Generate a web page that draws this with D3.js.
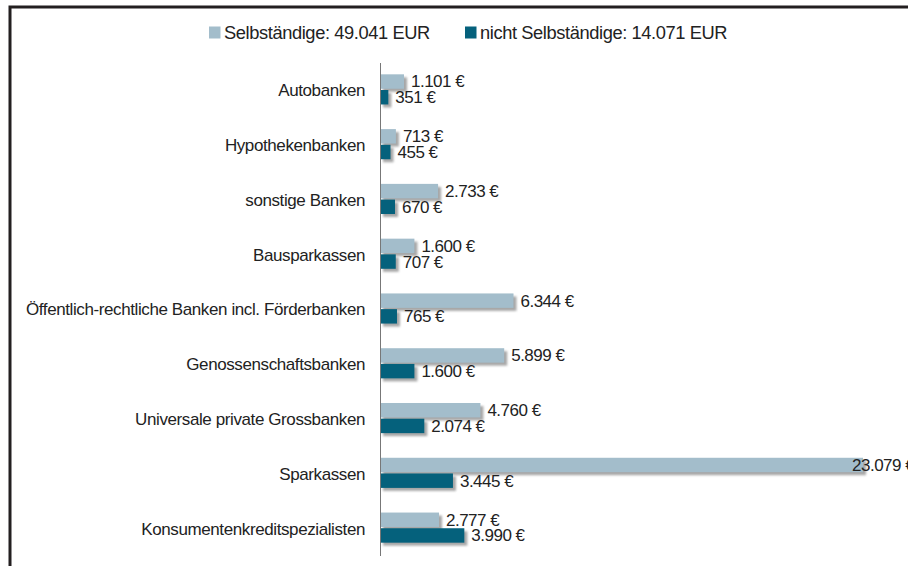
<!DOCTYPE html>
<html>
<head>
<meta charset="utf-8">
<script src="https://cdn.jsdelivr.net/npm/d3@7/dist/d3.min.js"></script>
<style>
  html, body { margin: 0; padding: 0; background: #fff; }
  svg { display: block; font-family: "Liberation Sans", Arial, sans-serif; }
</style>
</head>
<body>
<svg id="chart" width="908" height="566"></svg>
<script>
// Bank categories and average amounts per group
const categories = [
  "Autobanken",
  "Hypothekenbanken",
  "sonstige Banken",
  "Bausparkassen",
  "Öffentlich-rechtliche Banken incl. Förderbanken",
  "Genossenschaftsbanken",
  "Universale private Grossbanken",
  "Sparkassen",
  "Konsumentenkreditspezialisten"
];
const seriesNames = ["Selbständige: 49.041 EUR", "nicht Selbständige: 14.071 EUR"];
const selbstaendige = [1101, 713, 2733, 1600, 6344, 5899, 4760, 23079, 2777];
const nichtSelbstaendige = [351, 455, 670, 707, 765, 1600, 2074, 3445, 3990];

const colors = ["#a3bdcb", "#05617c"];

const W = 908, H = 566;
const svg = d3.select("#chart");

const rows = categories.map((c, i) => ({
  cat: c,
  values: [selbstaendige[i], nichtSelbstaendige[i]]
}));

const x0 = 381;
const x = d3.scaleLinear().domain([0, 23079]).range([x0, 863]);
const y = d3.scaleBand().domain(categories).range([62, 555])
  .paddingInner(0.45).paddingOuter(0.225);
const ySub = d3.scaleBand().domain([0, 1]).range([0, y.bandwidth()]).paddingInner(0.08);

const loc = d3.formatLocale({ decimal: ",", thousands: ".", grouping: [3], currency: ["", " €"] });
const fmt = v => loc.format(",d")(v) + " €";

// soft drop shadow behind the bars
const defs = svg.append("defs");
const f = defs.append("filter").attr("id", "shadow")
  .attr("x", "-5%").attr("y", "-50%").attr("width", "120%").attr("height", "250%");
f.append("feGaussianBlur").attr("stdDeviation", 1.2);

// frame
svg.append("path")
  .attr("d", `M10,${H} L10,7 L${W},7`)
  .attr("fill", "none").attr("stroke", "#231f20").attr("stroke-width", 3);

// legend
const legend = svg.append("g").attr("font-size", 18.3).attr("letter-spacing", -0.4);
const legendX = [209, 465];
seriesNames.forEach((name, i) => {
  const g = legend.append("g").attr("transform", `translate(${legendX[i]},26.5)`);
  g.append("rect").attr("width", 11.5).attr("height", 12).attr("fill", colors[i]);
  g.append("text").attr("x", 15).attr("y", 6).attr("dy", "0.35em")
    .attr("fill", "#222").text(name);
});

// category labels
svg.append("g").attr("font-size", 17).attr("letter-spacing", -0.4).attr("fill", "#222")
  .selectAll("text").data(rows).join("text")
  .attr("x", 365)
  .attr("y", d => y(d.cat) + y.bandwidth() / 2 + 1)
  .attr("dy", "0.35em")
  .attr("text-anchor", "end")
  .text(d => d.cat);

// bars
const groups = svg.append("g").selectAll("g").data(rows).join("g")
  .attr("transform", d => `translate(0,${y(d.cat)})`);

groups.selectAll("rect.sh").data(d => d.values).join("rect")
  .attr("class", "sh")
  .attr("x", x0 + 2)
  .attr("y", (v, i) => ySub(i) + 3)
  .attr("width", v => x(v) - x0 + 1)
  .attr("height", ySub.bandwidth())
  .attr("fill", "#8a8a8a").attr("opacity", 0.75)
  .attr("filter", "url(#shadow)");

groups.selectAll("rect.bar").data(d => d.values).join("rect")
  .attr("class", "bar")
  .attr("x", x0)
  .attr("y", (v, i) => ySub(i))
  .attr("width", v => x(v) - x0)
  .attr("height", ySub.bandwidth())
  .attr("fill", (v, i) => colors[i]);

// value labels
groups.selectAll("text").data(d => d.values).join("text")
  .attr("x", v => Math.min(x(v) + 7, 852))
  .attr("y", (v, i) => ySub(i) + ySub.bandwidth() / 2)
  .attr("dy", "0.35em")
  .attr("font-size", 17).attr("letter-spacing", -0.5).attr("fill", "#222")
  .text(v => fmt(v));

// category axis line
svg.append("line")
  .attr("x1", x0 - 0.5).attr("x2", x0 - 0.5)
  .attr("y1", 63).attr("y2", 556)
  .attr("stroke", "#777").attr("stroke-width", 1);
</script>
</body>
</html>
